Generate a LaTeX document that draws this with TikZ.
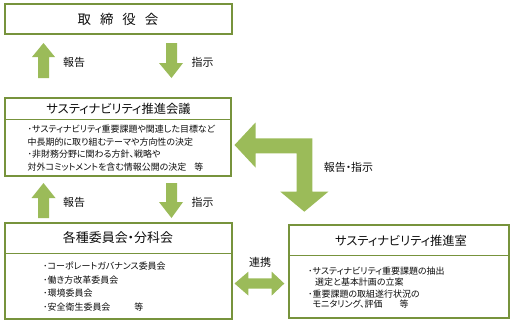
\documentclass[tikz,border=0pt]{standalone}
\usepackage{fontspec}
\setmainfont{Noto Sans CJK JP}[RawFeature=+palt]
\definecolor{bordergreen}{HTML}{77933C}
\definecolor{arrowgreen}{HTML}{9BBB59}
\definecolor{txt}{HTML}{0D0D0D}
\begin{document}
\begin{tikzpicture}[x=1bp,y=-1bp,
  box/.style={draw=bordergreen, line width=1.5bp, fill=white, inner sep=0},
  divider/.style={draw=bordergreen, line width=0.9bp},
  blockarrow/.style={fill=arrowgreen, draw=none},
  title/.style={font=\fontsize{12.3}{15}\selectfont, text=txt, inner sep=0},
  body/.style={font=\fontsize{9}{12.7}\selectfont, text=txt, inner sep=0, align=left, anchor=west},
  lbl/.style={font=\fontsize{11}{13}\selectfont, text=txt, inner sep=0}]
\useasboundingbox (0,0) rectangle (520,324);

% boxes
\node[box, minimum width=227bp, minimum height=30bp] (board) at (118.5,19) {};
\node[box, minimum width=226bp, minimum height=78bp] (council) at (118,137) {};
\node[box, minimum width=227bp, minimum height=96bp] (committees) at (118.5,271) {};
\node[box, minimum width=220bp, minimum height=93bp] (office) at (399,271.5) {};

% dividers
\draw[divider] (council.west |- 0,119) -- (council.east |- 0,119);
\draw[divider] (committees.west |- 0,253) -- (committees.east |- 0,253);
\draw[divider] (office.west |- 0,255) -- (office.east |- 0,255);

% titles
\node[title, font=\fontsize{13.5}{15}\selectfont] (boardtitle) at (118,19) {取\hspace{9bp}締\hspace{9bp}役\hspace{9bp}会};
\node[title] (counciltitle) at (118.5,108.5) {サスティナビリティ推進会議};
\node[title, font=\fontsize{13}{15}\selectfont] (committeestitle) at (118,238) {各種委員会・分科会};
\node[title] (officetitle) at (401,240.5) {サスティナビリティ推進室};

% bodies
\node[body] (councilbody) at (27.5,148) {･サスティナビリティ重要課題や関連した目標など\\中長期的に取り組むテーマや方向性の決定\\･非財務分野に関わる方針、戦略や\\対外コミットメントを含む情報公開の決定\hspace{8bp}等};
\node[body, font=\fontsize{9}{13.7}\selectfont] (committeesbody) at (43,286.5) {･コーポレートガバナンス委員会\\･働き方改革委員会\\･環境委員会\\･安全衛生委員会\hspace{24bp}等};
\node[body, font=\fontsize{9}{10.8}\selectfont] (officebody) at (308,288) {･サスティナビリティ重要課題の抽出\\\hspace*{7bp}選定と基本計画の立案\\[0.8bp]･重要課題の取組遂行状況の\\\hspace*{4.5bp}モニタリング、評価\hspace{17bp}等};

% block arrows
\fill[blockarrow] (43.5,43) -- (55,57) -- (49,57) -- (49,78) -- (38,78) -- (38,57) -- (32,57) -- cycle;
\fill[blockarrow] (166,43) -- (177,43) -- (177,63) -- (183,63) -- (171.5,78) -- (159,63) -- (166,63) -- cycle;
\fill[blockarrow] (43.5,183) -- (55.5,198) -- (49,198) -- (49,218) -- (38,218) -- (38,198) -- (31.5,198) -- cycle;
\fill[blockarrow] (166,183) -- (177,183) -- (177,202) -- (183,202) -- (171.5,218) -- (159,202) -- (166,202) -- cycle;
\fill[blockarrow] (234.5,145) -- (255.5,122.5) -- (255.5,138.3) -- (312.3,138.3) -- (312.3,191.7) -- (328.3,191.7) -- (304.3,211.7) -- (280.3,191.7) -- (296.7,191.7) -- (296.7,153.3) -- (255.5,153.3) -- (255.5,167.5) -- cycle;
\fill[blockarrow] (234.5,283.5) -- (248.3,271.7) -- (248.3,278.3) -- (271.7,278.3) -- (271.7,271.7) -- (284.3,283.5) -- (271.7,295.5) -- (271.7,288.5) -- (248.3,288.5) -- (248.3,295.5) -- cycle;

% labels
\node[lbl] (lblreport1) at (74,62) {報告};
\node[lbl] (lblinstr1) at (202.5,62) {指示};
\node[lbl] (lblreport2) at (74,202) {報告};
\node[lbl] (lblinstr2) at (202.5,202) {指示};
\node[lbl] (lblboth) at (348.5,167) {報告・指示};
\node[lbl] (lbllink) at (260,262.5) {連携};
\end{tikzpicture}
\end{document}
